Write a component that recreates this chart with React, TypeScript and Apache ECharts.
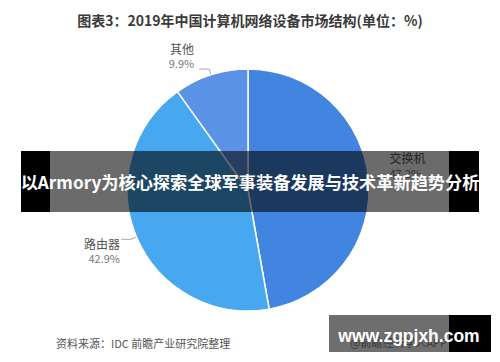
import React, { useEffect, useRef } from "react";
import * as echarts from "echarts";

const categories = ["交换机", "路由器", "其他"];
const shares = [47.2, 42.9, 9.9];
const sliceColors = ["#4285e0", "#47a8ef", "#5a93e6"];
const titleText = "图表3：2019年中国计算机网络设备市场结构(单位：%)";
const sourceText = "资料来源：IDC 前瞻产业研究院整理";
const bannerText = "以Armory为核心探索全球军事装备发展与技术革新趋势分析";
const siteText = "www.zgpjxh.com";
const appText = "@前瞻经济学人APP";

const CJK = "'Noto Sans CJK SC', 'Noto Sans', sans-serif";
const labelShift = [
  { dx: 0, dy: -14 },
  { dx: 4, dy: 11 },
  { dx: 0, dy: -14 },
];

export default function App() {
  const ref = useRef<HTMLDivElement>(null);
  useEffect(() => {
    if (!ref.current) return;
    const chart = echarts.init(ref.current, undefined, { renderer: "svg" });
    chart.setOption({
      animation: false,
      backgroundColor: "#ffffff",
      title: {
        text: titleText,
        left: "center",
        top: 8,
        textStyle: { fontFamily: CJK, fontSize: 14, fontWeight: "bold", color: "#3a3a3a" },
      },
      series: [
        {
          type: "pie",
          center: [248, 190],
          radius: 121,
          startAngle: 90,
          clockwise: true,
          itemStyle: { borderColor: "#ffffff", borderWidth: 1.5 },
          label: {
            show: true,
            position: "outside",
            formatter: "{n|{b}}\n{v|{d}%}",
            fontFamily: CJK,
            rich: {
              n: { fontFamily: CJK, fontSize: 12, color: "#555", lineHeight: 16 },
              v: { fontFamily: CJK, fontSize: 11, color: "#777", lineHeight: 14 },
            },
          },
          labelLine: { show: true, length: 6, length2: 10, lineStyle: { color: "#aaa", width: 1 } },
          labelLayout: (params: any) => labelShift[params.dataIndex] || {},
          data: categories.map((c, i) => ({
            name: c,
            value: shares[i],
            itemStyle: { color: sliceColors[i] },
          })),
        },
      ],
      graphic: [
        { type: "rect", shape: { x: 21, y: 151, width: 29, height: 61 }, style: { fill: "#000" }, z: 100 },
        { type: "rect", shape: { x: 449, y: 151, width: 30, height: 61 }, style: { fill: "#000" }, z: 100 },
        { type: "rect", shape: { x: 50, y: 151, width: 399, height: 61 }, style: { fill: "rgba(0,0,0,0.58)" }, z: 100 },
        {
          type: "text",
          x: 250,
          y: 181,
          z: 101,
          style: {
            text: bannerText,
            fill: "#fff",
            font: `bold 17.2px ${CJK}`,
            textAlign: "center",
            textVerticalAlign: "middle",
          },
        },
        {
          type: "text",
          left: 56,
          top: 337,
          style: { text: sourceText, fill: "#555", font: `11px ${CJK}` },
        },
        { type: "rect", shape: { x: 329, y: 315, width: 120, height: 37 }, style: { fill: "#6e6e6e" }, z: 100 },
        { type: "rect", shape: { x: 449, y: 315, width: 42, height: 37 }, style: { fill: "#000" }, z: 100 },
        {
          type: "text",
          x: 350,
          y: 342,
          z: 101,
          style: { text: appText, fill: "#3a3a3a", font: `11px ${CJK}`, textVerticalAlign: "middle" },
        },
        {
          type: "text",
          x: 409,
          y: 336,
          z: 102,
          style: {
            text: siteText,
            fill: "#fff",
            font: "bold 17.5px 'Liberation Sans', Arial, sans-serif",
            textAlign: "center",
            textVerticalAlign: "middle",
          },
        },
      ],
    });
    return () => chart.dispose();
  }, []);
  return (
    <div
      ref={ref}
      style={{ position: "fixed", left: 0, top: 0, width: 500, height: 362 }}
    />
  );
}
